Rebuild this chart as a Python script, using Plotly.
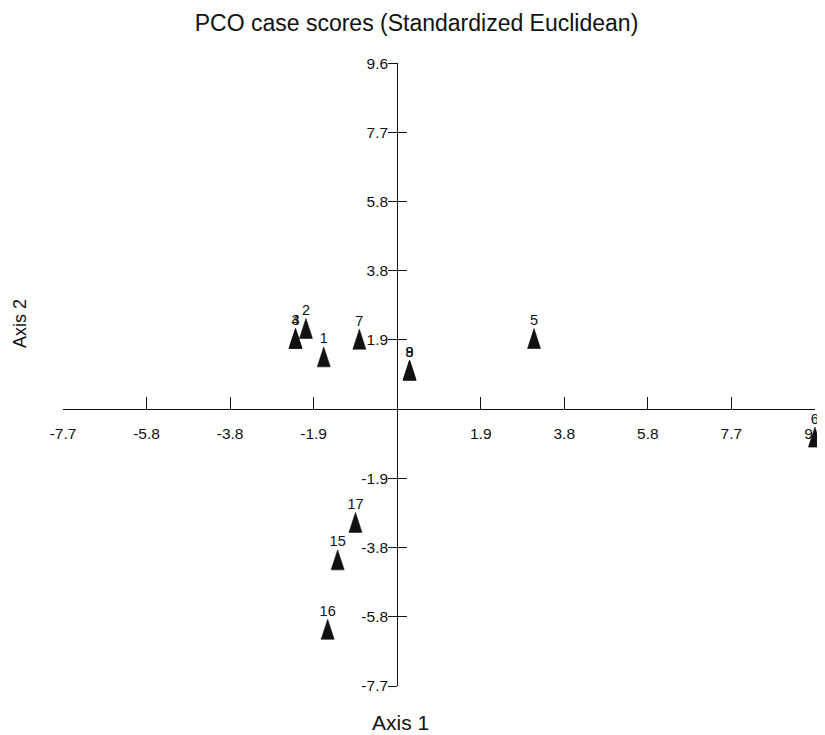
import plotly.graph_objects as go

# PCO case scores
case_labels = ["1", "2", "3", "4", "5", "6", "7", "8", "9", "15", "16", "17"]
axis1_scores = [-1.69, -2.10, -2.34, -2.34, 3.15, 9.615, -0.87, 0.285, 0.285, -1.37, -1.60, -0.96]
axis2_scores = [1.73, 2.52, 2.24, 2.24, 2.24, -0.50, 2.22, 1.36, 1.36, -3.91, -5.84, -2.87]

tick_values = [-7.692, -5.769, -3.846, -1.923, 1.923, 3.846, 5.769, 7.692, 9.615]
tick_labels = ["-7.7", "-5.8", "-3.8", "-1.9", "1.9", "3.8", "5.8", "7.7", "9.6"]
axis_range = [-7.692, 9.617]

FONT = "Liberation Sans, Arial, Helvetica, sans-serif"
INK = "#111111"

# the page body adds an 8px offset, so the figure is drawn 8px smaller
W, H = 817, 727

fig = go.Figure()

fig.add_trace(go.Scatter(
    x=axis1_scores, y=axis2_scores, mode="markers",
    marker=dict(symbol="arrow", size=21, color=INK, line=dict(color=INK, width=0.6)),
    showlegend=False, hoverinfo="skip", cliponaxis=False,
))
fig.add_trace(go.Scatter(
    x=axis1_scores, y=axis2_scores, mode="text", text=case_labels,
    textposition="top center", textfont=dict(family=FONT, size=14.5, color=INK),
    showlegend=False, hoverinfo="skip", cliponaxis=False,
))
# helper trace so the second (tick-only) y axis is drawn
fig.add_trace(go.Scatter(x=[None], y=[None], yaxis="y2", showlegend=False, hoverinfo="skip"))

pos = (0 - axis_range[0]) / (axis_range[1] - axis_range[0])

fig.update_layout(
    width=W, height=H,
    margin=dict(l=55, r=10, t=55, b=49, autoexpand=False),
    paper_bgcolor="white", plot_bgcolor="white",
    font=dict(family=FONT, size=15.5, color=INK),
    title=dict(text="PCO case scores (Standardized Euclidean)", x=0.5, xref="container",
               xanchor="center", y=1 - 15 / H, yref="container", yanchor="middle",
               font=dict(family=FONT, size=23, color=INK)),
    xaxis=dict(range=axis_range, anchor="free", position=pos, showgrid=False, zeroline=False,
               automargin=False, showline=True, linecolor=INK, linewidth=1,
               ticks="inside", ticklen=12, tickcolor=INK, tickwidth=1,
               tickvals=tick_values, ticktext=tick_labels, ticklabelstandoff=10,
               ticklabeloverflow="allow",
               tickfont=dict(family=FONT, size=15.5, color=INK)),
    yaxis=dict(range=axis_range, anchor="free", position=pos, showgrid=False, zeroline=False,
               automargin=False, showline=True, linecolor=INK, linewidth=1,
               ticks="outside", ticklen=9, tickcolor=INK, tickwidth=1,
               tickvals=tick_values, ticktext=tick_labels, ticklabelstandoff=-3,
               ticklabeloverflow="allow",
               tickfont=dict(family=FONT, size=15.5, color=INK)),
    yaxis2=dict(range=axis_range, overlaying="y", anchor="free", position=pos, side="left",
                automargin=False, showgrid=False, zeroline=False, showline=False,
                ticks="inside", ticklen=9, tickcolor=INK, tickwidth=1,
                tickvals=tick_values, showticklabels=False),
    annotations=[
        dict(text="Axis 1", xref="paper", yref="paper", x=(400 - 63) / 752, y=(686 - 722) / 623,
             xanchor="center", yanchor="middle", showarrow=False,
             font=dict(family=FONT, size=21, color=INK)),
        dict(text="Axis 2", xref="paper", yref="paper", x=(20 - 63) / 752, y=(686 - 324) / 623,
             xanchor="center", yanchor="middle", showarrow=False, textangle=-90,
             font=dict(family=FONT, size=18, color=INK)),
    ],
)

fig.write_html("out.html")
